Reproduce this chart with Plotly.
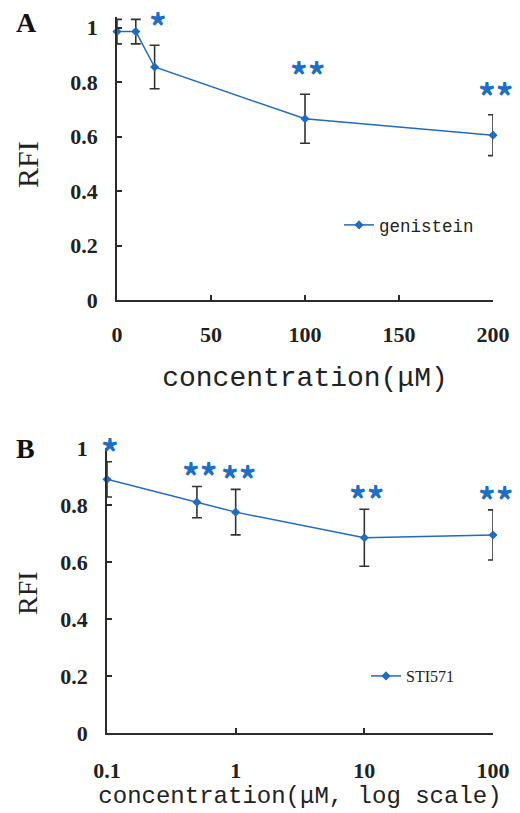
import math
import plotly.graph_objects as go

# ---- Data ----
gen_conc = [0, 10, 20, 100, 200]
gen_rfi = [0.985, 0.985, 0.855, 0.665, 0.605]
gen_err = [0.045, 0.045, 0.08, 0.09, 0.075]
gen_stars = ["", "", "*", "**", "**"]

sti_conc = [0.1, 0.5, 1, 10, 100]
sti_rfi = [0.89, 0.81, 0.775, 0.685, 0.695]
sti_err = [0.062, 0.055, 0.08, 0.1, 0.088]
sti_stars = ["*", "**", "**", "**", "**"]

ya_ticks = [0, 0.2, 0.4, 0.6, 0.8, 1]
ya_text = ["0", "0.2", "0.4", "0.6", "0.8", "1"]
xa_ticks = [0, 50, 100, 150, 200]
xb_ticks = [0.1, 1, 10, 100]
xb_text = ["0.1", "1", "10", "100"]

BLUE = "#1f6cc2"
STAR = "#1c6fc6"
AXC = "#2b2b2b"
W, H = 520, 813

fig = go.Figure()

fig.add_trace(go.Scatter(
    x=gen_conc, y=gen_rfi, mode="lines+markers", name="genistein",
    line=dict(color=BLUE, width=1.5),
    marker=dict(symbol="diamond", size=7, color=BLUE),
    error_y=dict(type="data", array=gen_err, visible=True, color="#333333", thickness=1.6, width=5),
    cliponaxis=False, xaxis="x", yaxis="y", legend="legend",
))
fig.add_trace(go.Scatter(
    x=sti_conc, y=sti_rfi, mode="lines+markers", name="STI571",
    line=dict(color=BLUE, width=1.5),
    marker=dict(symbol="diamond", size=7, color=BLUE),
    error_y=dict(type="data", array=sti_err, visible=True, color="#333333", thickness=1.6, width=5),
    cliponaxis=False, xaxis="x2", yaxis="y2", legend="legend2",
))

tickfont = dict(family="Liberation Serif", size=22, color="#222222", weight="bold")
common_axis = dict(showline=True, linecolor=AXC, linewidth=1.6, ticks="inside", ticklen=5,
                   tickwidth=1.5, tickcolor=AXC, showgrid=False, zeroline=False, tickfont=tickfont,
                   automargin=False)

# panel A geometry (pixels)
a_x0, a_x1 = 117, 493
a_ybot, a_ytop = 300, 16.6
b_x0, b_x1 = 107, 493
b_ybot, b_ytop = 733, 448

fig.update_layout(
    width=W, height=H, margin=dict(l=0, r=0, t=0, b=0),
    paper_bgcolor="white", plot_bgcolor="white",
    xaxis=dict(domain=[a_x0 / W, a_x1 / W], range=[0, 200], tickvals=xa_ticks, anchor="y",
               title=dict(text="concentration(μM)", font=dict(family="Liberation Mono", size=28, color="#222"),
                          standoff=20),
               ticklabelstandoff=14, **common_axis),
    yaxis=dict(domain=[1 - a_ybot / H, 1 - a_ytop / H], range=[0, 1.04], tickvals=ya_ticks, ticktext=ya_text,
               anchor="x", ticklabelstandoff=13, **common_axis),
    xaxis2=dict(domain=[b_x0 / W, b_x1 / W], type="log", range=[-1, 2], tickvals=xb_ticks, ticktext=xb_text,
                anchor="y2",
                title=dict(text="concentration(μM, log scale)", font=dict(family="Liberation Mono", size=24, color="#222"),
                           standoff=2),
                ticklabelstandoff=17, **common_axis),
    yaxis2=dict(domain=[1 - b_ybot / H, 1 - b_ytop / H], range=[0, 1.0], tickvals=ya_ticks, ticktext=ya_text,
                anchor="x2", ticklabelstandoff=13, **common_axis),
    legend=dict(x=339 / W, y=1 - 225 / H, xanchor="left", yanchor="middle", bgcolor="rgba(0,0,0,0)",
                font=dict(family="Liberation Mono", size=17.5, color="#222")),
    legend2=dict(x=366 / W, y=1 - 676 / H, xanchor="left", yanchor="middle", bgcolor="rgba(0,0,0,0)",
                 font=dict(family="Liberation Serif", size=16, color="#222")),
    showlegend=True,
)

anns = []
for xv, yv, ev, s in zip(gen_conc, gen_rfi, gen_err, gen_stars):
    if s:
        anns.append(dict(x=xv, y=yv + ev, xref="x", yref="y", text=s, showarrow=False,
                         xanchor="center", yanchor="bottom", yshift=-7, xshift=3,
                         font=dict(family="Noto Sans CJK SC", size=35, color=STAR, weight="bold")))
for xv, yv, ev, s in zip(sti_conc, sti_rfi, sti_err, sti_stars):
    if s:
        anns.append(dict(x=math.log10(xv), y=yv + ev, xref="x2", yref="y2", text=s, showarrow=False,
                         xanchor="center", yanchor="bottom", yshift=-16, xshift=3,
                         font=dict(family="Noto Sans CJK SC", size=35, color=STAR, weight="bold")))
# y-axis titles
anns.append(dict(x=27 / W, y=1 - 165 / H, xref="paper", yref="paper", text="RFI", textangle=-90,
                 xanchor="center", yanchor="middle",
                 showarrow=False, font=dict(family="Liberation Serif", size=30, color="#222")))
anns.append(dict(x=27 / W, y=1 - 593 / H, xref="paper", yref="paper", text="RFI", textangle=-90,
                 xanchor="center", yanchor="middle",
                 showarrow=False, font=dict(family="Liberation Serif", size=28, color="#222")))
# panel labels
anns.append(dict(x=26 / W, y=1 - 23 / H, xref="paper", yref="paper", text="<b>A</b>", showarrow=False,
                 xanchor="center", yanchor="middle",
                 font=dict(family="Liberation Serif", size=28, color="#111")))
anns.append(dict(x=25 / W, y=1 - 449 / H, xref="paper", yref="paper", text="<b>B</b>", showarrow=False,
                 xanchor="center", yanchor="middle",
                 font=dict(family="Liberation Serif", size=28, color="#111")))
fig.update_layout(annotations=anns)

fig.write_html("out.html", config={"displayModeBar": False},
               post_script="document.body.style.margin='0';document.body.style.overflow='hidden';")
